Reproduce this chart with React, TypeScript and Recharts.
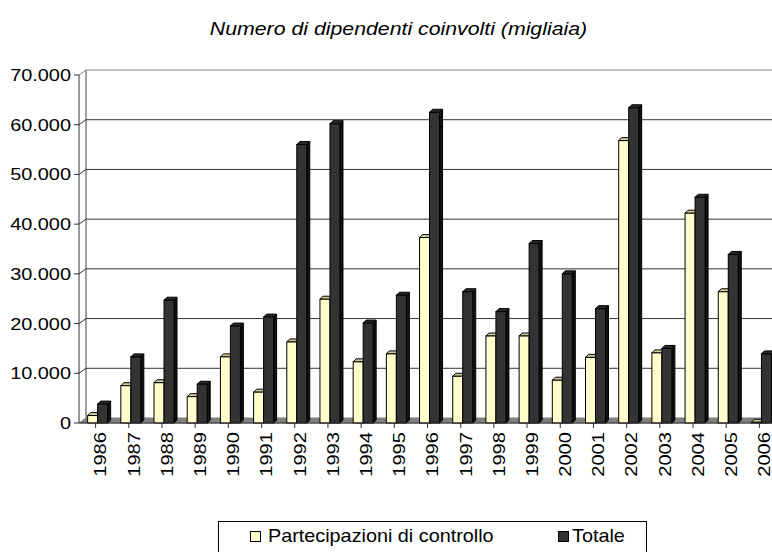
import React from 'react';
import { BarChart, Bar, XAxis, YAxis, ReferenceLine, ReferenceArea } from 'recharts';

const years = ['1986', '1987', '1988', '1989', '1990', '1991', '1992', '1993', '1994', '1995', '1996', '1997', '1998', '1999', '2000', '2001', '2002', '2003', '2004', '2005', '2006'];
const partecipazioni = [1500, 7500, 8100, 5300, 13300, 6200, 16300, 24900, 12300, 13900, 37300, 9400, 17500, 17500, 8600, 13200, 56800, 14100, 42200, 26400, 150];
const totale = [3800, 13300, 24700, 7800, 19500, 21300, 56000, 60200, 20100, 25700, 62500, 26400, 22400, 36100, 30000, 23000, 63400, 15000, 45400, 33900, 13900];
const yTicks = [0, 10000, 20000, 30000, 40000, 50000, 60000, 70000];
const title = 'Numero di dipendenti coinvolti (migliaia)';
const seriesNames = ['Partecipazioni di controllo', 'Totale'];
const seriesColors = ['#FFFFCC', '#333333'];

const data = years.map((year, i) => ({ year, part: partecipazioni[i], tot: totale[i] }));

const FONT = '"Liberation Sans", Arial, sans-serif';
const DX = 7; // 3D depth offset (walls)
const DY = 5;
const BD = 3; // bar depth
const BSHIFT = 2; // bars sit at mid-depth

const fmt = (v: number) => String(v).replace(/\B(?=(\d{3})+(?!\d))/g, '.');

const makeBox = (front: string, top: string, side: string) => (p: any) => {
  const { y, width, height } = p;
  if (p.x == null || y == null) return <g />;
  const x = p.x + BSHIFT;
  const h = Math.max(0, height);
  return (
    <g>
      <polygon
        points={`${x + width},${y} ${x + width + BD},${y - BD} ${x + width + BD},${y + h - BD} ${x + width},${y + h}`}
        fill={side} stroke="#000" strokeWidth={1} strokeLinejoin="round"
      />
      <polygon
        points={`${x},${y} ${x + BD},${y - BD} ${x + width + BD},${y - BD} ${x + width},${y}`}
        fill={top} stroke="#000" strokeWidth={1} strokeLinejoin="round"
      />
      <rect x={x} y={y} width={width} height={h} fill={front} stroke="#000" strokeWidth={1} />
    </g>
  );
};

const WallShape = (p: any) => {
  const { x, y, width, height } = p;
  if (x == null) return <g />;
  const bottom = y + height;
  return (
    <g>
      <polygon
        points={`${x},${bottom} ${x + DX},${bottom - DY} ${x + width + DX},${bottom - DY} ${x + width},${bottom}`}
        fill="#808080" stroke="#808080" strokeWidth={1}
      />
      <line x1={x + DX} y1={y - DY} x2={x + DX} y2={bottom - DY} stroke="#808080" strokeWidth={1.5} />
    </g>
  );
};

const makeGrid = (color: string) => (p: any) => {
  const { x1, y1, x2 } = p;
  if (x1 == null || y1 == null) return <g />;
  const left = Math.min(x1, x2);
  const right = Math.max(x1, x2);
  return (
    <polyline
      points={`${left},${y1} ${left + DX},${y1 - DY} ${right + DX},${y1 - DY}`}
      fill="none" stroke={color} strokeWidth={1}
    />
  );
};

const YTick = (p: any) => {
  const { x, y, payload } = p;
  return (
    <text
      transform={`translate(${x},${y}) scale(1.17,1)`}
      textAnchor="end" dominantBaseline="central"
      fontFamily={FONT} fontSize={17} fill="#000"
    >
      {fmt(payload.value)}
    </text>
  );
};

const XTick = (p: any) => {
  const { x, y, payload } = p;
  return (
    <text
      transform={`translate(${x + 5},${y}) rotate(-90) scale(1.22,1)`}
      textAnchor="end" dominantBaseline="central"
      fontFamily={FONT} fontSize={16.5} fill="#000"
    >
      {payload.value}
    </text>
  );
};

export default function App() {
  return (
    <div style={{ position: 'absolute', left: 0, top: 0, width: 772, height: 552, overflow: 'hidden', background: '#fff', fontFamily: FONT }}>
      <div style={{ position: 'absolute', left: 0, top: 19, width: 797, textAlign: 'center', fontSize: 19, lineHeight: '20px', fontStyle: 'italic', color: '#000', transform: 'scaleX(1.12)', transformOrigin: '398.5px 0' }}>
        {title}
      </div>
      <div style={{ position: 'absolute', left: 0, top: 0 }}>
        <BarChart width={776} height={552} data={data} margin={{ top: 75, right: 0, bottom: 0, left: 0 }} barCategoryGap="20%" barGap={0}>
          <ReferenceArea y1={0} y2={70000} shape={WallShape} fill="none" stroke="none" zIndex={-60} ifOverflow="visible" />
          {yTicks.slice(1).map((v) => (
            <ReferenceLine key={v} y={v} shape={makeGrid(v === 70000 ? '#808080' : '#333333')} stroke="#333" zIndex={-50} ifOverflow="visible" />
          ))}
          <XAxis dataKey="year" interval={0} height={129} tickSize={5} tickMargin={4} axisLine={{ stroke: '#333' }} tickLine={{ stroke: '#333' }} tick={<XTick />} />
          <YAxis domain={[0, 70000]} ticks={yTicks} width={79} tickSize={5} tickMargin={3} axisLine={{ stroke: '#333' }} tickLine={{ stroke: '#333' }} tick={<YTick />} interval={0} />
          <Bar dataKey="part" name={seriesNames[0]} fill={seriesColors[0]} isAnimationActive={false} shape={makeBox(seriesColors[0], '#CCCC99', '#999966')} />
          <Bar dataKey="tot" name={seriesNames[1]} fill={seriesColors[1]} isAnimationActive={false} shape={makeBox(seriesColors[1], '#2a2a2a', '#111111')} />
        </BarChart>
      </div>
      <div style={{ position: 'absolute', left: 218, top: 521, width: 429, height: 40, border: '1px solid #000', boxSizing: 'border-box' }} />
      {seriesNames.map((name, i) => {
        const sx = i === 0 ? 250 : 558;
        const tx = i === 0 ? 268 : 572;
        return (
          <React.Fragment key={name}>
            <div style={{ position: 'absolute', left: sx, top: 531, width: 11, height: 11, border: '1px solid #000', boxSizing: 'border-box', background: seriesColors[i] }} />
            <div style={{ position: 'absolute', left: tx, top: 526, fontSize: 18.5, lineHeight: '20px', whiteSpace: 'nowrap', color: '#000', transform: 'scaleX(1.07)', transformOrigin: '0 0' }}>
              {name}
            </div>
          </React.Fragment>
        );
      })}
    </div>
  );
}
